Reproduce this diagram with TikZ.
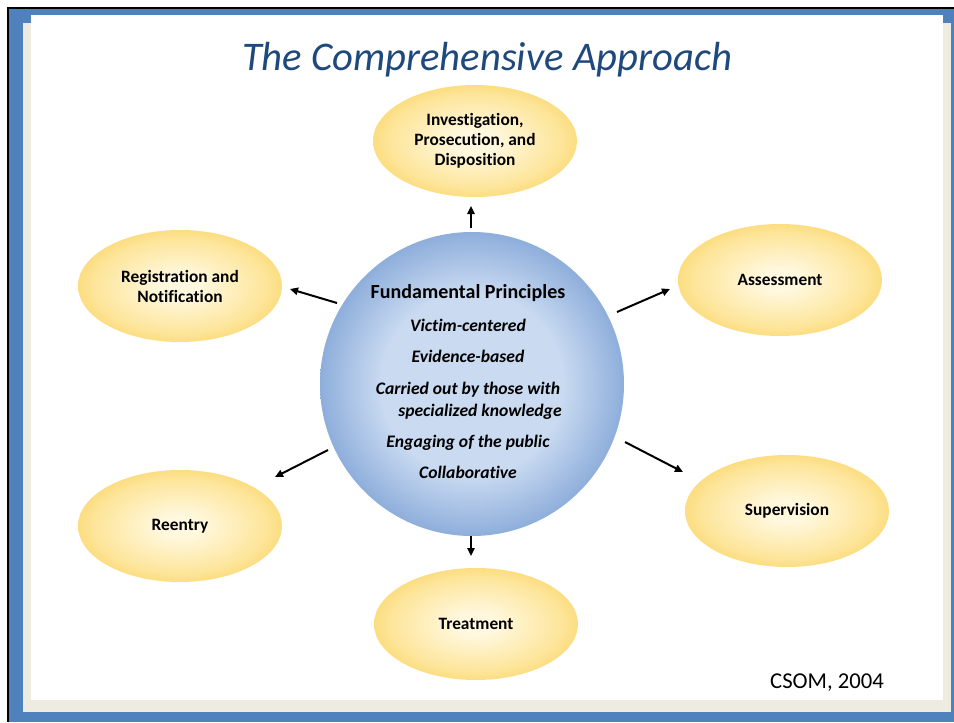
\documentclass[tikz,border=0pt]{standalone}
\usepackage{fontspec}
\setmainfont[Ligatures=CommonOff]{Carlito}
\usetikzlibrary{arrows.meta,shapes.geometric}
\definecolor{frameblue}{HTML}{4F81BD}
\definecolor{framecream}{HTML}{EEECE1}
\definecolor{titleblue}{HTML}{1F497D}
\definecolor{ycenter}{HTML}{FFF8DE}
\definecolor{ymid}{HTML}{FDE59A}
\definecolor{yedge}{HTML}{F9CF55}
\definecolor{bcenter}{HTML}{C9DAF1}
\definecolor{bmid}{HTML}{8EAEDB}
\definecolor{bedge}{HTML}{4677B8}
\pgfdeclareradialshading{yglow}{\pgfpoint{0bp}{0bp}}{color(0bp)=(ycenter); color(5bp)=(ycenter); color(21bp)=(ymid); color(32bp)=(yedge); color(50bp)=(yedge)}
\pgfdeclareradialshading{bglow}{\pgfpoint{0bp}{0bp}}{color(0bp)=(bcenter); color(15bp)=(bcenter); color(25bp)=(bmid); color(31bp)=(bedge); color(50bp)=(bedge)}
\tikzset{
  oval/.style={ellipse, shading=yglow, minimum width=153pt, minimum height=84pt, inner sep=0pt, align=center, font=\fontsize{13}{15}\bfseries\selectfont},
  hub/.style={circle, shading=bglow, minimum size=228pt, inner sep=0pt},
  hubtext/.style={align=center, inner sep=0pt, font=\fontsize{13.2}{16.5}\bfseries\itshape\selectfont},
  arr/.style={line width=1.5pt, -{Triangle[length=6pt,width=5.5pt]}},
}
\begin{document}
\begin{tikzpicture}[x=0.75pt,y=-0.75pt]
\useasboundingbox (0,0) rectangle (954,722);
\fill[white] (0,0) rectangle (954,722);
\fill[frameblue] (9,9) rectangle (954,722);
\fill[framecream] (23,23) rectangle (951,712);
\fill[white] (31,15) rectangle (943,700);
\fill[black] (7,7) rectangle (954,9);
\fill[black] (7,7) rectangle (9,722);

\node[text=titleblue, font=\fontsize{30.5}{36}\itshape\selectfont] (title) at (487,60) {The Comprehensive Approach};

\node[hub] (c) at (472,384) {};
\node[hubtext] (fp) at (468,382) {{\fontsize{15}{16}\selectfont\upshape Fundamental Principles}\\[8pt]
Victim-centered\\[7pt]
Evidence-based\\[7pt]
Carried out by those with\\
\hspace*{18pt}specialized knowledge\\[7pt]
Engaging of the public\\[7pt]
Collaborative};

\node[oval] (inv) at (475,141) {Investigation,\\Prosecution, and\\Disposition};
\node[oval] (reg) at (180,286) {Registration and\\Notification};
\node[oval] (ass) at (780,280) {Assessment};
\node[oval] (sup) at (787,511) {Supervision};
\node[oval] (ree) at (180,526) {Reentry};
\node[oval] (tre) at (476,624) {Treatment};

\draw[arr] ([shift={(-1,-156)}]c.center) -- ([shift={(-4,65)}]inv.center);
\draw[arr] ([shift={(-135,-81)}]c.center) -- ([shift={(110,3)}]reg.center);
\draw[arr] ([shift={(145,-72)}]c.center) -- ([shift={(-110,9)}]ass.center);
\draw[arr] ([shift={(153,58)}]c.center) -- ([shift={(-104,-39)}]sup.center);
\draw[arr] ([shift={(-144,66)}]c.center) -- ([shift={(95,-49)}]ree.center);
\draw[arr] ([shift={(-1,152)}]c.center) -- ([shift={(-5,-68)}]tre.center);

\node[font=\fontsize{17}{20}\selectfont] (src) at (827,683) {CSOM, 2004};
\end{tikzpicture}
\end{document}
